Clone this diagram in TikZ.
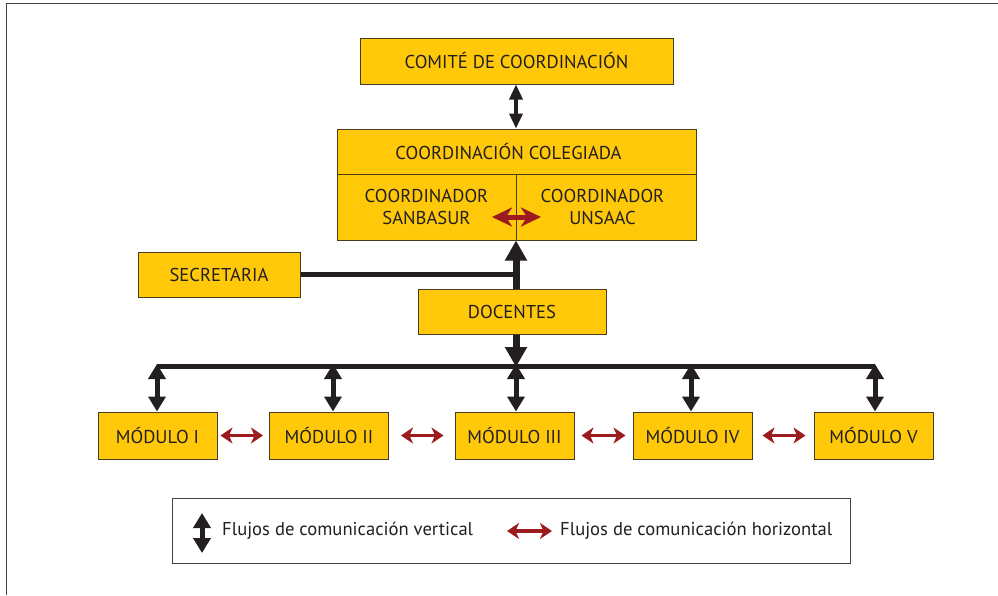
\documentclass[tikz,border=0pt]{standalone}
\usepackage{fontspec}
\setmainfont{PT Sans}
\usetikzlibrary{arrows.meta}
\definecolor{boxyellow}{RGB}{255,201,10}
\definecolor{boxline}{RGB}{70,60,30}
\definecolor{ink}{RGB}{35,31,32}
\definecolor{flowred}{RGB}{155,27,31}
\begin{document}
\begin{tikzpicture}[x=1pt,y=-1pt,
  box/.style={draw=boxline, line width=1pt, fill=boxyellow, text=ink, inner sep=0pt,
    font=\fontsize{18.6}{22}\selectfont, align=center},
  lbl/.style={text=ink, inner sep=0pt, font=\fontsize{18.6}{22}\selectfont, anchor=west},
  vsmall/.style={draw=ink, line width=3.5pt, {Triangle[width=13pt,length=15pt]}-{Triangle[width=13pt,length=15pt]}},
  vmid/.style={draw=ink, line width=5pt, {Triangle[width=17pt,length=15pt]}-{Triangle[width=17pt,length=15pt]}},
  vbigtip/.style={draw=ink, line width=7pt, -{Triangle[width=21pt,length=20pt]}},
  hred/.style={draw=flowred, line width=3.2pt, {Stealth[width=16pt,length=12pt,inset=3.5pt]}-{Stealth[width=16pt,length=12pt,inset=3.5pt]}},
  hredbig/.style={draw=flowred, line width=5pt, {Stealth[width=19pt,length=20pt,inset=6pt]}-{Stealth[width=19pt,length=20pt,inset=6pt]}},
  busline/.style={draw=ink, line width=5pt},
]
\useasboundingbox (0,0) rectangle (998,595);
% outer frame
\draw[draw=ink!85, line width=1pt] (6,595) -- (6,3) -- (998,3);

% boxes
\node[box, minimum width=313pt, minimum height=46pt] (com) at (516.5,61) {COMITÉ DE COORDINACIÓN};
\node[box, minimum width=359pt, minimum height=45pt] (cct) at (516.5,151.5) {\hspace*{-16pt}COORDINACIÓN COLEGIADA};
\node[box, minimum width=179pt, minimum height=66pt] (ccl) at (426.5,207) {COORDINADOR\\SANBASUR};
\node[box, minimum width=180pt, minimum height=66pt] (ccr) at (606,207) {\hspace*{-7pt}COORDINADOR\\\hspace*{-7pt}UNSAAC};
\node[box, minimum width=162pt, minimum height=45pt] (sec) at (219,274.5) {SECRETARIA};
\node[box, minimum width=188pt, minimum height=45pt] (doc) at (512,311.5) {DOCENTES};
\node[box, minimum width=119pt, minimum height=47pt] (m1) at (157.5,435.5) {MÓDULO I};
\node[box, minimum width=119pt, minimum height=47pt] (m2) at (329,435.5) {MÓDULO II};
\node[box, minimum width=119pt, minimum height=47pt] (m3) at (514.5,435.5) {MÓDULO III};
\node[box, minimum width=119pt, minimum height=47pt] (m4) at (692.5,435.5) {MÓDULO IV};
\node[box, minimum width=119pt, minimum height=47pt] (m5) at (873.5,435.5) {MÓDULO V};

% vertical connectors
\coordinate (ax) at (516,0);
\draw[vsmall] (ax |- com.south) -- (ax |- cct.north);
\draw[busline] (sec.east) -- (ax |- sec.east);
\draw[vbigtip] (ax |- doc.north) -- (ax |- ccl.south);
\draw[vbigtip] (ax |- doc.south) -- (516,367);
\coordinate (b1) at (157,366);
\coordinate (b2) at (333,366);
\coordinate (b3) at (516,366);
\coordinate (b4) at (691,366);
\coordinate (b5) at (875,366);
\draw[busline] (b1) -- (b5);
\draw[vmid] ([yshift=2pt]b1) -- (b1 |- m1.north);
\draw[vmid] ([yshift=2pt]b2) -- (b2 |- m2.north);
\draw[vmid] ([yshift=2pt]b3) -- (b3 |- m3.north);
\draw[vmid] ([yshift=2pt]b4) -- (b4 |- m4.north);
\draw[vmid] ([yshift=2pt]b5) -- (b5 |- m5.north);

% horizontal connectors
\coordinate (rl) at (492,217);
\coordinate (rr) at (541,217);
\draw[hredbig] (rl) -- (rr);
\draw[hred] ([xshift=3pt]m1.east) -- ([xshift=-6pt]m2.west);
\draw[hred] ([xshift=12pt]m2.east) -- ([xshift=-11pt]m3.west);
\draw[hred] ([xshift=7pt]m3.east) -- ([xshift=-7pt]m4.west);
\draw[hred] ([xshift=10pt]m4.east) -- ([xshift=-8pt]m5.west);

% legend
\node[draw=ink!85, line width=1pt, minimum width=678pt, minimum height=65pt, inner sep=0pt] (leg) at (511,530.5) {};
\coordinate (lv1) at (202,513);
\coordinate (lv2) at (202,553);
\draw[vmid] (lv1) -- (lv2);
\node[lbl] (t1) at (222,531) {Flujos de comunicación vertical};
\coordinate (lh1) at (507,531);
\coordinate (lh2) at (552,531);
\draw[hred] (lh1) -- (lh2);
\node[lbl] (t2) at (560,531) {Flujos de comunicación horizontal};
\end{tikzpicture}
\end{document}
